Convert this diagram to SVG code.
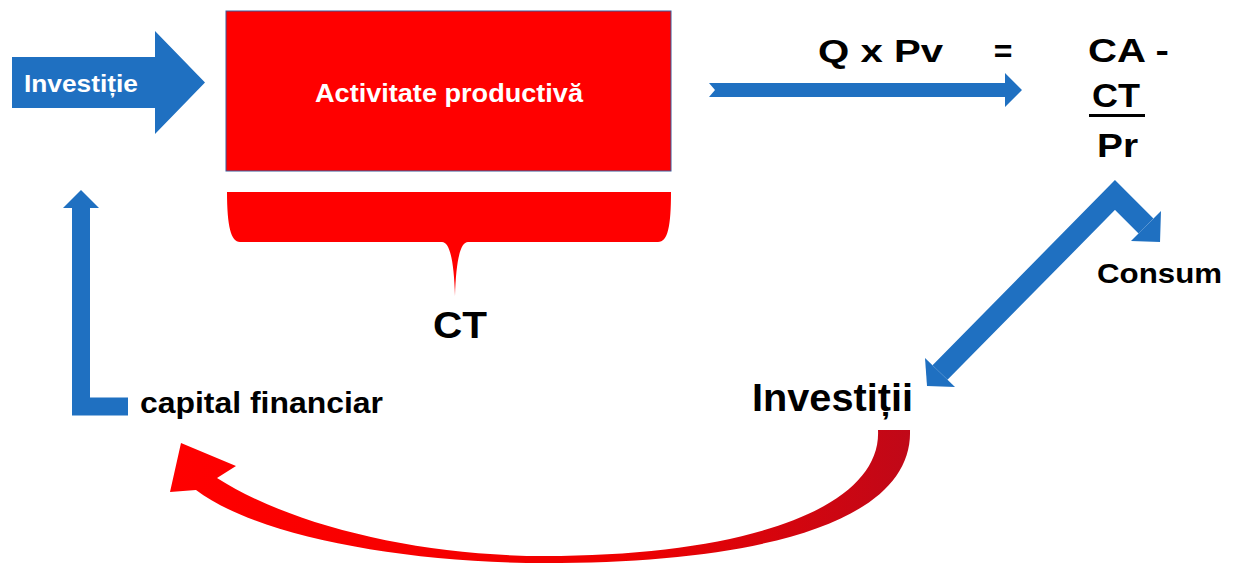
<svg xmlns="http://www.w3.org/2000/svg" width="1238" height="565" viewBox="0 0 1238 565">
  <defs>
    <style>
      .t { font-family: "Liberation Sans", Arial, sans-serif; font-weight: bold; fill: #000; }
      .w { fill: #ffffff; }
      .blue { fill: #1f70c1; }
      .bstroke { fill: none; stroke: #1f70c1; stroke-linejoin: miter; stroke-linecap: butt; }
    </style>
    <linearGradient id="redgrad" x1="0" y1="0" x2="1" y2="0">
      <stop offset="0" stop-color="#ff0000"/>
      <stop offset="0.6" stop-color="#f00000"/>
      <stop offset="1" stop-color="#c00818"/>
    </linearGradient>
  </defs>
  <rect width="1238" height="565" fill="#ffffff"/>

  <g id="investitie-arrow">
    <polygon class="blue" points="12,57 155,57 155,31 205,82.5 155,134 155,108 12,108"/>
    <text class="t w" x="24" y="92" font-size="24" textLength="114" lengthAdjust="spacingAndGlyphs">Investiție</text>
  </g>

  <g id="activitate-productiva">
    <rect x="226" y="11" width="445" height="160" fill="#ff0000" stroke="#3a5a9a" stroke-width="1"/>
    <text class="t w" x="315" y="102" font-size="26" textLength="268" lengthAdjust="spacingAndGlyphs">Activitate productivă</text>
  </g>

  <g id="ct-brace">
    <path fill="#ff0000" d="M227,192 L671,192 C671,226 668,242 658,242 L468,242 C460,242 456,262 455,296 C454,262 450,242 442,242 L240,242 C231,242 227,226 227,192 Z"/>
    <text class="t" x="433" y="338" font-size="36" textLength="54" lengthAdjust="spacingAndGlyphs">CT</text>
  </g>

  <g id="formula">
    <text class="t" x="818" y="62" font-size="32" textLength="125" lengthAdjust="spacingAndGlyphs">Q x Pv</text>
    <text class="t" x="1003" y="62" font-size="32" text-anchor="middle">=</text>
    <text class="t" x="1088" y="62" font-size="33" textLength="81" lengthAdjust="spacingAndGlyphs">CA -</text>
    <text class="t" x="1092" y="107" font-size="33" textLength="48" lengthAdjust="spacingAndGlyphs">CT</text>
    <rect x="1089" y="114" width="56" height="3" fill="#000"/>
    <text class="t" x="1097" y="157" font-size="34" textLength="41" lengthAdjust="spacingAndGlyphs">Pr</text>
  </g>

  <g id="consum">
    <text class="t" x="1097" y="283" font-size="28" textLength="125" lengthAdjust="spacingAndGlyphs">Consum</text>
  </g>

  <g id="investitii">
    <text class="t" x="752" y="411" font-size="38" textLength="161" lengthAdjust="spacingAndGlyphs">Investiții</text>
  </g>

  <g id="capital-financiar">
    <text class="t" x="140" y="413" font-size="29" textLength="243" lengthAdjust="spacingAndGlyphs">capital financiar</text>
  </g>

  <g id="connectors">
    <!-- Activitate -> Q x Pv -->
    <polygon class="blue" points="709,83 1005,83 1005,73 1022,90 1005,107 1005,97 709,97 715,90"/>
    <!-- Pr -> Investitii / Consum -->
    <path class="bstroke" stroke-width="21" d="M940,372.5 L1115,195 L1146,226"/>
    <polygon class="blue" points="925,358 955,387 927,386"/>
    <polygon class="blue" points="1161,211 1131,241 1160,242"/>
    <!-- capital financiar -> Investitie -->
    <path class="bstroke" stroke-width="18" d="M81,207 L81,406.5 L128,406.5"/>
    <polygon class="blue" points="81,190 99,208 63,208"/>
    <!-- Investitii -> capital financiar (curved) -->
    <path fill="url(#redgrad)" d="M878,430 L910,430 C913,522 760,563 545,563 C400,563 255,535 196,490 L170,492 L181,443 L236,466 L217,478 C292,526 420,556 545,556 C740,556 882,510 878,430 Z"/>
  </g>
</svg>
